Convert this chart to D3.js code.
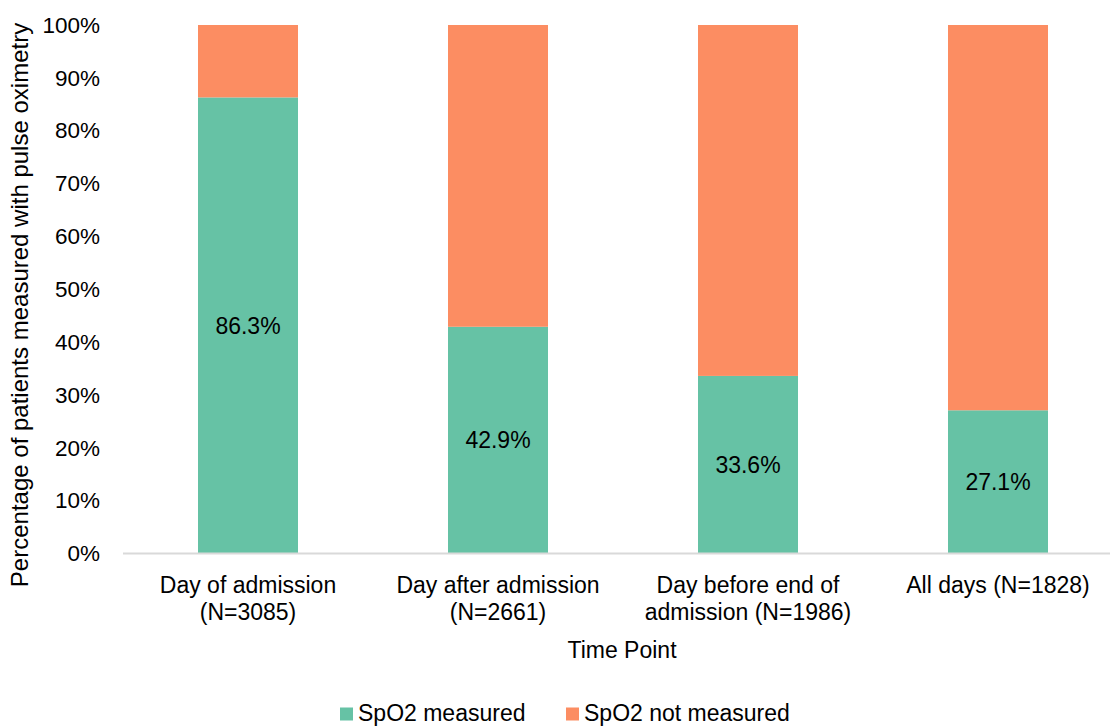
<!DOCTYPE html>
<html>
<head>
<meta charset="utf-8">
<script src="https://cdn.jsdelivr.net/npm/d3@7"></script>
<style>
  html, body { margin: 0; padding: 0; background: #fff; }
  svg { display: block; font-family: "Liberation Sans", Arial, sans-serif; }
</style>
</head>
<body>
<svg id="chart" width="1110" height="727"></svg>
<script>
// Time points, with sample sizes shown on a second label line
const categories = ["Day of admission", "Day after admission", "Day before end of admission", "All days"];
const labelLines = [
  ["Day of admission", "(N=3085)"],
  ["Day after admission", "(N=2661)"],
  ["Day before end of", "admission (N=1986)"],
  ["All days (N=1828)"]
];
// Share of patients with SpO2 measured (%)
const measured = [86.3, 42.9, 33.6, 27.1];
const notMeasured = measured.map(v => 100 - v);
const seriesNames = ["SpO2 measured", "SpO2 not measured"];
const seriesColors = ["#66c2a5", "#fc8d62"];
const yTicks = [0, 10, 20, 30, 40, 50, 60, 70, 80, 90, 100];

const svg = d3.select("#chart");
const margin = { left: 123, top: 25, right: -13, bottom: 173.5 };
const W = 1110, H = 727;
const innerW = W - margin.left - margin.right;
const innerH = H - margin.top - margin.bottom;
const FS = 23;

const x = d3.scaleBand().domain(categories).range([0, innerW]).paddingInner(0.6).paddingOuter(0.3);
const y = d3.scaleLinear().domain([0, 100]).range([innerH, 0]);

const g = svg.append("g").attr("transform", `translate(${margin.left},${margin.top})`);

// Stacked bars
const rows = categories.map((c, i) => ({ cat: c, measured: measured[i], notMeasured: notMeasured[i] }));
const stack = d3.stack().keys(["measured", "notMeasured"]);
const layers = stack(rows);

g.selectAll("g.layer").data(layers).join("g")
  .attr("class", "layer")
  .attr("fill", (d, i) => seriesColors[i])
  .selectAll("rect").data(d => d).join("rect")
  .attr("x", d => x(d.data.cat))
  .attr("width", x.bandwidth())
  .attr("y", d => y(d[1]))
  .attr("height", d => y(d[0]) - y(d[1]));

// Value labels centred in the measured segment
g.selectAll("text.val").data(rows).join("text")
  .attr("class", "val")
  .attr("x", d => x(d.cat) + x.bandwidth() / 2)
  .attr("y", d => y(d.measured / 2))
  .attr("dy", "0.35em")
  .attr("text-anchor", "middle")
  .attr("font-size", FS)
  .attr("fill", "#000")
  .text(d => d.measured.toFixed(1) + "%");

// Y axis: labels only
const yAxis = g.append("g")
  .call(d3.axisLeft(y).tickValues(yTicks).tickFormat(d => d + "%").tickSize(0).tickPadding(23));
yAxis.select(".domain").remove();
yAxis.selectAll("text").attr("font-size", 22.5).attr("fill", "#000").attr("font-family", "Liberation Sans, Arial, sans-serif");

// X axis baseline
g.append("line")
  .attr("x1", 0).attr("x2", innerW)
  .attr("y1", y(0)).attr("y2", y(0))
  .attr("stroke", "#d9d9d9").attr("stroke-width", 2);

// Category labels
const xl = g.selectAll("text.cat").data(categories).join("text")
  .attr("class", "cat")
  .attr("text-anchor", "middle")
  .attr("font-size", FS)
  .attr("fill", "#000")
  .attr("transform", d => `translate(${x(d) + x.bandwidth() / 2},${y(0) + 39})`);
xl.selectAll("tspan").data((d, i) => labelLines[i]).join("tspan")
  .attr("x", 0)
  .attr("dy", (d, i) => i === 0 ? 0 : 27.5)
  .text(d => d);

// Axis titles
svg.append("text")
  .attr("x", 622).attr("y", 658)
  .attr("text-anchor", "middle")
  .attr("font-size", FS)
  .attr("fill", "#000")
  .text("Time Point");

svg.append("text")
  .attr("transform", `translate(28,${305}) rotate(-90)`)
  .attr("text-anchor", "middle")
  .attr("font-size", 24)
  .attr("fill", "#000")
  .text("Percentage of patients measured with pulse oximetry");

// Legend
const legend = svg.append("g").attr("transform", "translate(340,721)");
const legendX = [0, 226];
seriesNames.forEach((name, i) => {
  const item = legend.append("g").attr("transform", `translate(${legendX[i]},0)`);
  item.append("rect").attr("x", 0).attr("y", -13.5).attr("width", 13).attr("height", 13).attr("fill", seriesColors[i]);
  item.append("text").attr("x", 18).attr("y", 0).attr("font-size", FS).attr("fill", "#000").text(name);
});
</script>
</body>
</html>
